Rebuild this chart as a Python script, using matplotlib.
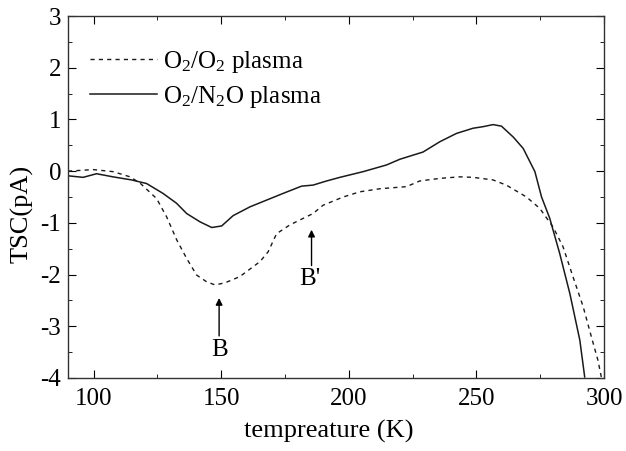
import matplotlib
matplotlib.use("Agg")
import matplotlib.pyplot as plt
from matplotlib.ticker import MultipleLocator

plt.rcParams['font.family'] = ['Liberation Serif', 'DejaVu Serif']
plt.rcParams['mathtext.fontset'] = 'custom'
plt.rcParams['mathtext.rm'] = 'Liberation Serif'
plt.rcParams['mathtext.default'] = 'regular'
plt.rcParams['axes.unicode_minus'] = False

# O2/N2O plasma (solid)
t_n2o = [90, 95.9, 101.2, 107.6, 114.9, 120.8, 127.2, 132.5, 136.5, 141.7, 146.3,
         150.2, 154.7, 161.3, 167.8, 174.3, 181.5, 186, 191.3, 196.5, 205.6, 214.8,
         220, 229.1, 235.7, 242.2, 248.7, 252.6, 256.5, 259.8, 264.4, 268.3, 272.9,
         275.5, 278.7, 282.6, 286.6, 290.5, 292.4]
tsc_n2o = [-0.09, -0.12, -0.05, -0.11, -0.17, -0.24, -0.43, -0.62, -0.82, -0.98, -1.09,
           -1.06, -0.86, -0.69, -0.56, -0.43, -0.29, -0.27, -0.19, -0.12, -0.01, 0.12,
           0.23, 0.37, 0.57, 0.73, 0.83, 0.86, 0.90, 0.87, 0.66, 0.44, -0.01,
           -0.50, -0.91, -1.59, -2.37, -3.27, -3.98]

# O2/O2 plasma (dashed)
t_o2 = [90, 99.9, 107.7, 114.3, 118.2, 124.7, 128.6, 132.6, 136.5, 140.4, 144.3,
        147.6, 151.5, 157.3, 165.2, 168.4, 171.7, 176.9, 183.5, 186, 189.9, 197.8,
        204.3, 212.2, 222.6, 227.8, 235.7, 243.5, 248.7, 256.5, 261.7, 269.6, 274.8,
        280, 283.9, 287.8, 291.8, 295, 297.6, 298.9]
tsc_o2 = [0.0, 0.03, -0.01, -0.11, -0.23, -0.53, -0.88, -1.33, -1.69, -2.01, -2.14,
          -2.2, -2.16, -2.04, -1.75, -1.56, -1.21, -1.04, -0.88, -0.82, -0.66, -0.5,
          -0.40, -0.34, -0.30, -0.19, -0.14, -0.11, -0.12, -0.17, -0.27, -0.50, -0.72,
          -1.08, -1.46, -2.04, -2.62, -3.2, -3.66, -3.98]

fig = plt.figure(figsize=(6.26, 4.51), dpi=100)
ax = fig.add_axes([0.1086, 0.1619, 0.8564, 0.8026])

ax.plot(t_o2, tsc_o2, color='#1a1a1a', lw=1.0, ls=(0, (3, 3)), label='O$_2$/O$_2$ plasma')
ax.plot(t_n2o, tsc_n2o, color='#1a1a1a', lw=1.1, ls='-', label='O$_2$/N$_2$O plasma')

ax.set_xlim(90, 300)
ax.set_ylim(-4, 3)
ax.xaxis.set_major_locator(MultipleLocator(50))
ax.xaxis.set_minor_locator(MultipleLocator(25))
ax.yaxis.set_major_locator(MultipleLocator(1))
ax.yaxis.set_minor_locator(MultipleLocator(0.5))
ax.tick_params(which='both', direction='in', top=True, right=True, labelsize=18)
ax.tick_params(axis='x', pad=7)
ax.tick_params(axis='y', pad=5)
ax.tick_params(which='major', length=6)
ax.tick_params(which='minor', length=3)
for s in ax.spines.values():
    s.set_linewidth(1.0)
    s.set_color('#333333')

ax.set_xlabel('tempreature (K)', fontsize=19, va='center')
ax.xaxis.set_label_coords(0.486, -0.149)
ax.set_ylabel('TSC(pA)', fontsize=19, va='center')
ax.yaxis.set_label_coords(-0.086, 0.453)

ax.legend(loc='upper left', bbox_to_anchor=(0.041, 0.909), frameon=False, fontsize=18,
          handlelength=2.68, handletextpad=0.24, labelspacing=0.35, borderaxespad=0,
          borderpad=0)

ax.annotate('', xy=(149.2, -2.40), xytext=(149.2, -3.24),
            arrowprops=dict(arrowstyle='-|>', color='black', lw=1.0, mutation_scale=10))
ax.text(149.2, -3.45, 'B', fontsize=18, ha='center', va='center')
ax.annotate('', xy=(185.4, -1.08), xytext=(185.4, -1.88),
            arrowprops=dict(arrowstyle='-|>', color='black', lw=1.0, mutation_scale=10))
ax.text(184.8, -2.08, "B'", fontsize=18, ha='center', va='center')

fig.savefig('out.png', dpi=100)
